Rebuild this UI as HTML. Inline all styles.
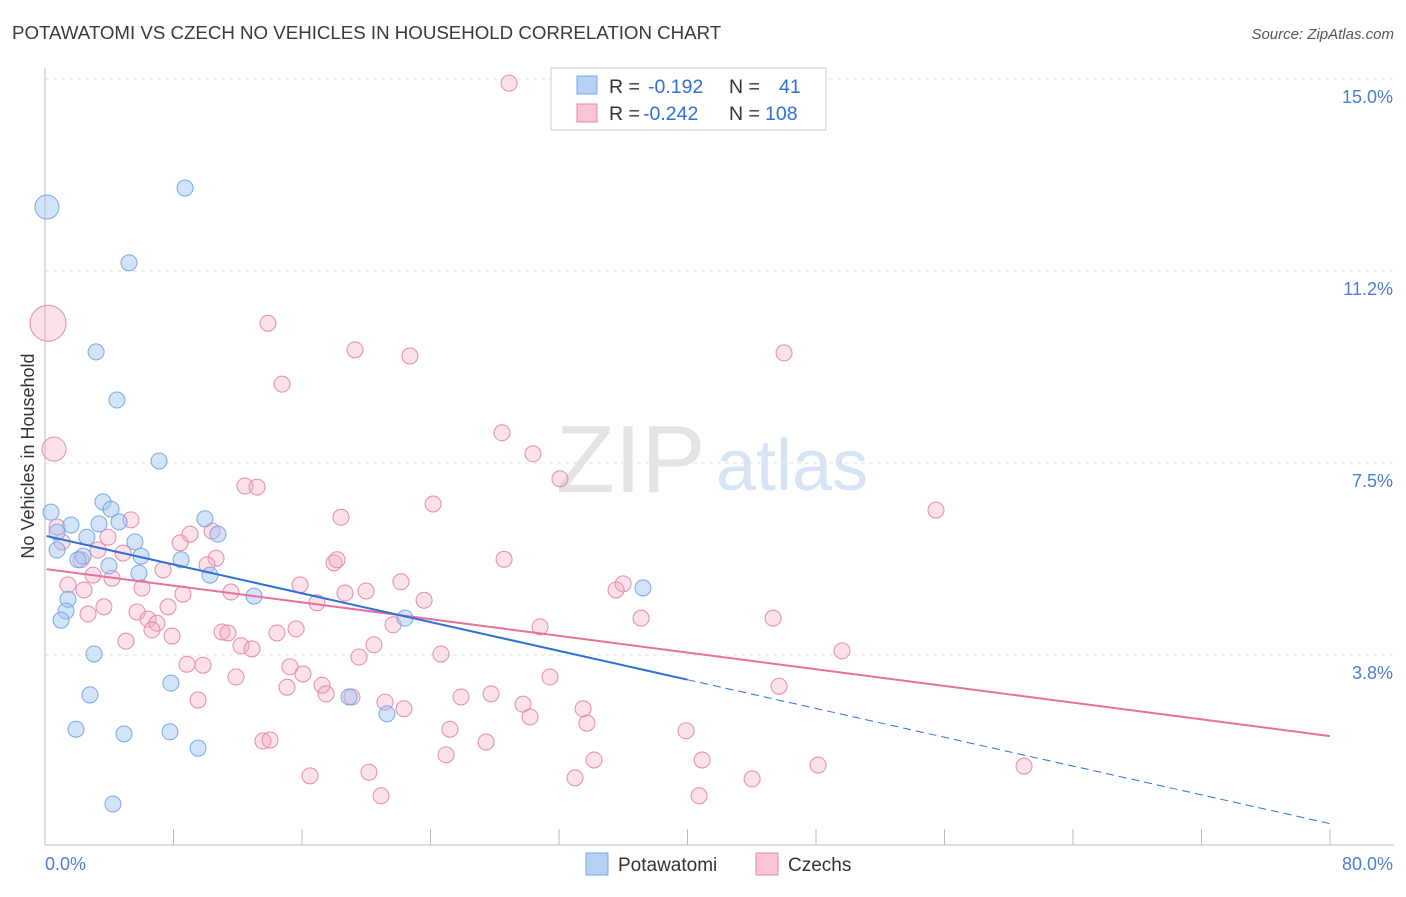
<!DOCTYPE html>
<html><head><meta charset="utf-8"><style>
body{margin:0;background:#fff;font-family:"Liberation Sans",sans-serif;}
svg text{font-family:"Liberation Sans",sans-serif;}
</style></head><body>
<svg id="chart" width="1406" height="892" viewBox="0 0 1406 892" xmlns="http://www.w3.org/2000/svg">
<text x="12" y="39" font-size="18.7" fill="#3a3a3a">POTAWATOMI VS CZECH NO VEHICLES IN HOUSEHOLD CORRELATION CHART</text>
<text x="1394" y="39" font-size="15" fill="#555" font-style="italic" text-anchor="end">Source: ZipAtlas.com</text>
<text x="556" y="492" font-size="96" fill="#e4e4e4" font-family="Liberation Serif">ZIP</text>
<text x="716" y="490" font-size="72" fill="#d6e4f5">atlas</text>
<g id="grid"></g>
<g id="axes"></g>
<text transform="translate(34,456) rotate(-90)" font-size="18" fill="#333" text-anchor="middle">No Vehicles in Household</text>
<g id="pts"></g>
<g id="lines"></g>
<g>
<rect x="551" y="68" width="275" height="62" fill="#fff" stroke="#ccc"/>
<rect x="577" y="76" width="20" height="18" fill="#b7d1f4" stroke="#7aa8e6"/>
<rect x="577" y="104" width="20" height="18" fill="#f8c6d6" stroke="#e88aaa"/>
<text x="609" y="93" font-size="19.5" fill="#333">R = <tspan x="648" fill="#2f6fd6">-0.192</tspan><tspan x="729">N = </tspan><tspan x="779" fill="#2f6fd6">41</tspan></text>
<text x="609" y="120" font-size="19.5" fill="#333">R = <tspan x="643" fill="#2f6fd6">-0.242</tspan><tspan x="729">N = </tspan><tspan x="765" fill="#2f6fd6">108</tspan></text>
</g>
<g>
<rect x="586" y="853" width="22" height="22" fill="#b7d1f4" stroke="#7aa8e6"/>
<text x="618" y="871" font-size="19" fill="#333">Potawatomi</text>
<rect x="756" y="853" width="22" height="22" fill="#f8c6d6" stroke="#e88aaa"/>
<text x="788" y="871" font-size="19" fill="#333">Czechs</text>
</g>
</svg>
<script>
const xTicks=[0,8,16,24,32,40,48,56,64,72,80];
const yTicks=[3.75,7.5,11.25,15];
const yTickLabels=["3.8%","7.5%","11.2%","15.0%"];
const xEndLabels=["0.0%","80.0%"];
const blueX=[0.12,8.72,5.23,3.18,4.48,7.10,0.37,3.61,4.11,4.61,1.62,3.36,0.75,2.61,5.60,0.75,2.37,2.05,5.98,8.47,9.96,10.77,3.98,5.85,10.27,1.43,1.31,1.00,13.01,22.41,37.23,3.05,7.84,2.80,18.93,21.29,1.93,4.92,7.78,9.53,4.23];
const blueY=[12.50,12.87,11.41,9.67,8.73,7.54,6.54,6.74,6.60,6.35,6.29,6.31,6.15,6.05,5.96,5.80,5.68,5.61,5.68,5.61,6.41,6.11,5.49,5.35,5.31,4.84,4.61,4.43,4.90,4.47,5.06,3.77,3.20,2.97,2.93,2.60,2.30,2.21,2.25,1.93,0.84];
const blueR=[12,8,8,8,8,8,8,8,8,8,8,8,8,8,8,8,8,8,8,8,8,8,8,8,8,8,8,8,8,8,8,8,8,8,8,8,8,8,8,8,8];
const pinkX=[28.89,0.19,13.88,19.30,22.72,46.01,14.76,28.45,30.38,0.56,32.06,12.45,13.20,24.16,55.47,18.43,5.35,0.75,1.06,3.92,8.41,9.03,10.40,28.58,17.99,18.18,10.65,4.86,3.30,7.35,10.09,2.24,2.99,4.17,1.43,2.43,6.04,15.88,22.16,35.99,35.55,8.59,11.58,18.68,19.99,23.60,16.93,3.67,2.68,5.73,7.66,6.41,6.97,6.66,37.11,45.33,5.04,7.91,11.02,11.39,12.20,12.89,14.44,15.63,21.67,20.48,19.55,30.82,24.65,49.62,8.84,9.84,15.25,16.06,11.89,31.44,15.07,17.25,17.50,19.11,9.53,21.17,25.90,27.77,29.76,30.20,22.35,33.50,33.74,39.91,25.21,45.70,13.57,14.01,27.46,24.97,16.50,20.17,20.92,33.00,34.18,40.91,44.02,40.72,48.13,60.95];
const pinkY=[14.92,10.23,10.23,9.71,9.59,9.65,9.04,8.09,7.68,7.77,7.19,7.05,7.03,6.70,6.58,6.44,6.39,6.25,5.96,6.05,5.94,6.11,6.17,5.62,5.55,5.61,5.64,5.74,5.80,5.41,5.51,5.61,5.31,5.25,5.12,5.02,5.06,5.12,5.18,5.14,5.02,4.94,4.98,4.96,5.00,4.82,4.77,4.69,4.55,4.59,4.69,4.45,4.37,4.24,4.47,4.47,4.02,4.12,4.20,4.18,3.93,3.87,4.18,4.26,4.34,3.95,3.71,4.30,3.77,3.83,3.57,3.55,3.52,3.38,3.32,3.32,3.12,3.16,2.99,2.93,2.87,2.83,2.93,2.99,2.79,2.54,2.70,2.70,2.42,2.27,2.30,3.14,2.07,2.09,2.05,1.80,1.39,1.46,1.00,1.35,1.70,1.70,1.33,1.00,1.60,1.58];
const pinkBig={1:18,9:12};
const blueFit=[6.08,-0.0703];
const pinkFit=[5.43,-0.0408];
const NS="http://www.w3.org/2000/svg";
const X0=45,X1=1330,Y0=847,PXY=51.2;
const sx=v=>X0+(v/80)*(X1-X0);
const sy=v=>Y0-v*PXY;
function mk(tag,attrs,parent){const e=document.createElementNS(NS,tag);for(const k in attrs)e.setAttribute(k,attrs[k]);parent.appendChild(e);return e;}
const grid=document.getElementById('grid'),axes=document.getElementById('axes'),pts=document.getElementById('pts'),lines=document.getElementById('lines');
yTicks.forEach((t,i)=>{
 const l=mk('line',{x1:X0,x2:1394,y1:sy(t),y2:sy(t),stroke:'#e2e2e2','stroke-dasharray':'4,4'},grid);
 
 
 const tx=mk('text',{x:1393,y:sy(t)+24,'font-size':18,fill:'#4a7fd6','text-anchor':'end'},axes);
 tx.textContent=yTickLabels[i];
 
 
});
const topL=mk('line',{x1:X0,x2:1394,y1:79,y2:79,stroke:'#e2e2e2','stroke-dasharray':'4,4'},grid);


const ya=mk('line',{x1:X0,x2:X0,y1:68,y2:845,stroke:'#bbb'},axes);


const xa=mk('line',{x1:X0,x2:1394,y1:845,y2:845,stroke:'#bbb'},axes);


xTicks.forEach(t=>{
 const l=mk('line',{x1:sx(t),x2:sx(t),y1:829,y2:845,stroke:'#bbb'},axes);
 
 
});
const xl0=mk('text',{x:45,y:870,'font-size':18,fill:'#4a7fd6'},axes);xl0.textContent=xEndLabels[0];


const xl1=mk('text',{x:1393,y:870,'font-size':18,fill:'#4a7fd6','text-anchor':'end'},axes);xl1.textContent=xEndLabels[1];


pinkX.forEach((v,i)=>{
 const c=mk('circle',{cx:sx(v),cy:sy(pinkY[i]),r:pinkBig[i]||8,fill:'rgba(244,170,196,0.35)',stroke:'#e88aaa','stroke-width':1},pts);
 
 
});
blueX.forEach((v,i)=>{
 const c=mk('circle',{cx:sx(v),cy:sy(blueY[i]),r:blueR[i],fill:'rgba(160,196,240,0.45)',stroke:'#7aa8e6','stroke-width':1},pts);
 
 
});
const f=(fit,x)=>fit[0]+fit[1]*x;
const pl=mk('line',{x1:sx(0.1),y1:sy(f(pinkFit,0.1)),x2:sx(80),y2:sy(f(pinkFit,80)),stroke:'#e8709a','stroke-width':2},lines);


const bl=mk('line',{x1:sx(0.1),y1:sy(f(blueFit,0.1)),x2:sx(40),y2:sy(f(blueFit,40)),stroke:'#2f6fd6','stroke-width':2},lines);


const bd=mk('line',{x1:sx(40),y1:sy(f(blueFit,40)),x2:sx(80),y2:sy(f(blueFit,80)),stroke:'#2f6fd6','stroke-width':1,'stroke-dasharray':'8,5'},lines);


</script>
</body></html>
